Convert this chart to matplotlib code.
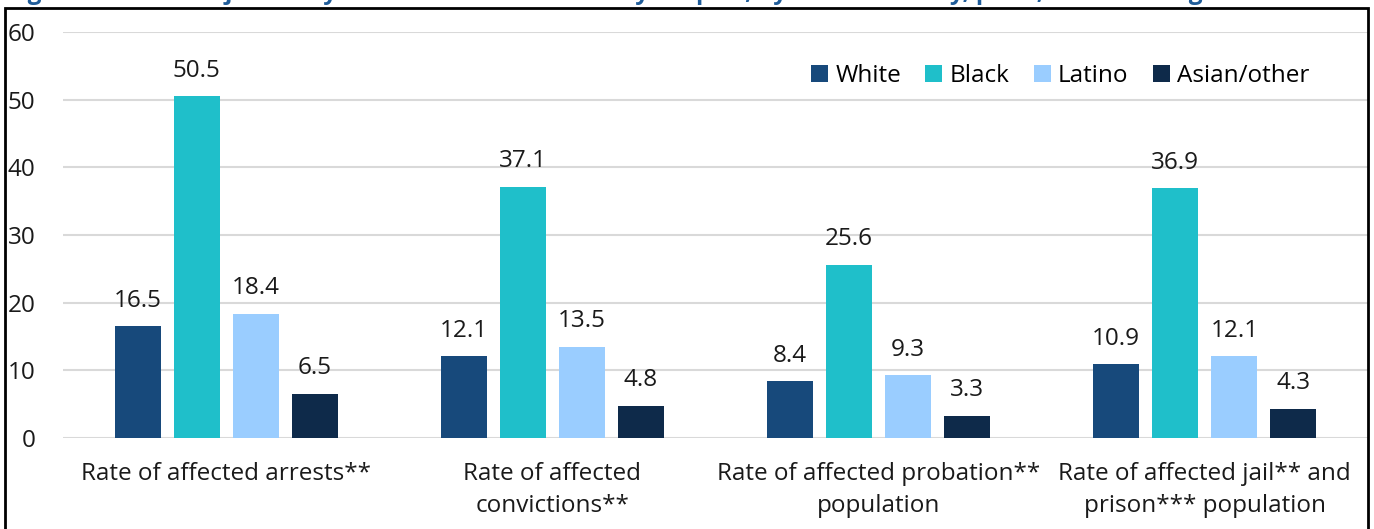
import matplotlib.pyplot as plt
import numpy as np
from matplotlib.patches import Rectangle

plt.rcParams['font.family'] = ['Open Sans', 'DejaVu Sans']

categories = ["Rate of affected arrests**",
              "Rate of affected\nconvictions**",
              "Rate of affected probation**\npopulation",
              "Rate of affected jail** and\nprison*** population"]
groups = ["White", "Black", "Latino", "Asian/other"]
white = [16.5, 12.1, 8.4, 10.9]
black = [50.5, 37.1, 25.6, 36.9]
latino = [18.4, 13.5, 9.3, 12.1]
asian = [6.5, 4.8, 3.3, 4.3]
colors = ["#17497b", "#1fbfca", "#9acdff", "#0e2a4a"]

fs = 17.5
fig = plt.figure(figsize=(13.74, 5.29), dpi=100)
ax = fig.add_axes([0.0459, 0.172, 0.9497, 0.7675])

x = np.arange(len(categories))
w = 0.141
step = 0.181
series = [white, black, latino, asian]
for i, (name, vals, c) in enumerate(zip(groups, series, colors)):
    pos = x + (i - 1.5) * step
    bars = ax.bar(pos, vals, w, color=c, label=name, zorder=3)
    for b, v in zip(bars, vals):
        ax.text(b.get_x() + b.get_width() / 2, v + 2.0, f"{v:.1f}",
                ha='center', va='bottom', fontsize=fs, color='#1a1a1a')

ax.set_xlim(-0.5, 3.5)
ax.set_ylim(0, 60)
ax.set_yticks(range(0, 61, 10))
ax.yaxis.grid(True, color='#d9d9d9', linewidth=1.5, zorder=0)
ax.set_axisbelow(True)
for s in ax.spines.values():
    s.set_visible(False)
ax.tick_params(axis='y', length=0, pad=20, labelsize=fs, labelcolor='#1a1a1a')
ax.set_xticks(x)
ax.set_xticklabels(categories, fontsize=fs, color='#1a1a1a', linespacing=1.45)
ax.tick_params(axis='x', length=0, pad=17)

ax.legend(loc='upper right', bbox_to_anchor=(0.972, 0.975), ncol=4, frameon=False,
          fontsize=fs, handlelength=0.7, handleheight=0.7, handletextpad=0.3,
          columnspacing=1.0)

# outer frame
fig.patches.append(Rectangle((5 / 1374, -0.05), 1363 / 1374, 1.05 - 8 / 529,
                             transform=fig.transFigure, fill=False,
                             edgecolor='black', linewidth=2, zorder=10))

fig.text(0.005, 1 + 1 / 529,
         "Figure 3. Criminal justice system contacts affected by Prop 47, by race/ethnicity, per 1,000 adults ages 18 to 69",
         fontsize=fs, fontweight='bold', color='#1f5c99', va='baseline', ha='left')

fig.savefig("out.png", dpi=100)
